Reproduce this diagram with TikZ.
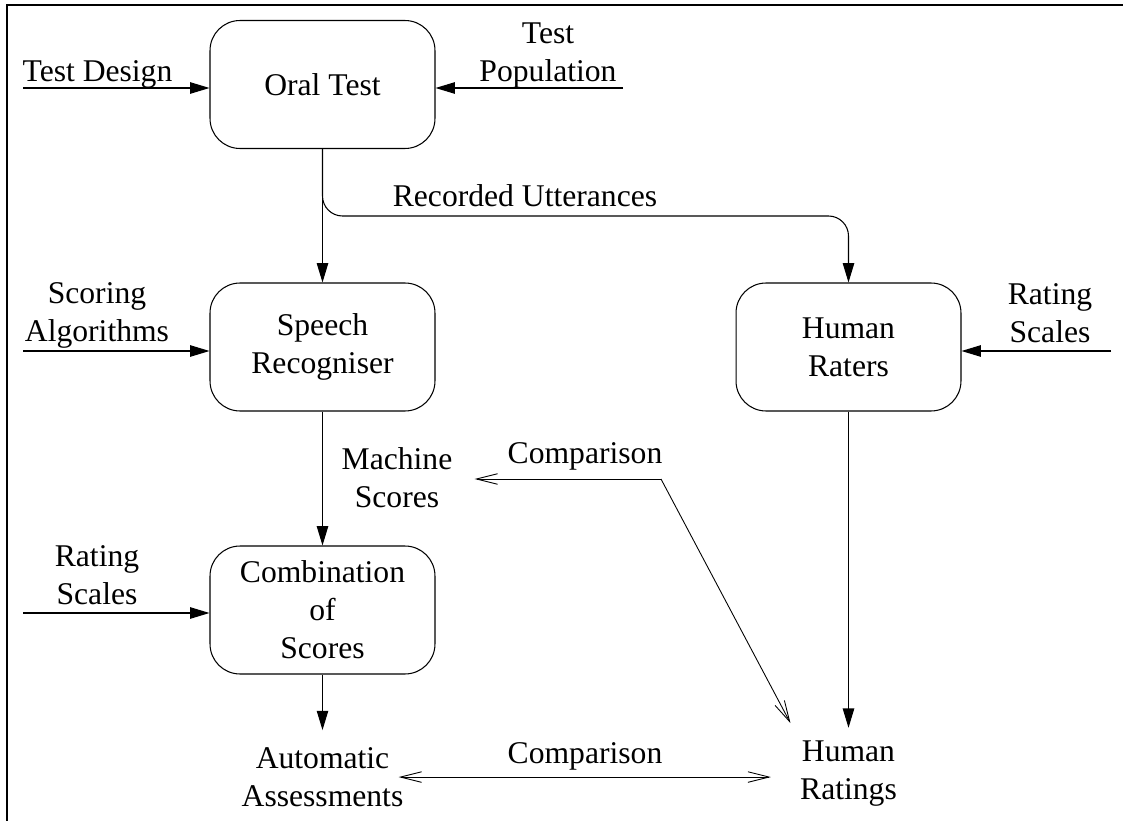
\documentclass[tikz,border=0pt]{standalone}
\usepackage{fontspec}
\setmainfont{Liberation Serif}
\usetikzlibrary{arrows.meta}

\begin{document}
\begin{tikzpicture}[x=0.02cm,y=-0.02cm,
			    font=\fontsize{18}{21.6}\selectfont,
			    box/.style={draw,rounded corners=0.6cm,minimum height=2.56cm,minimum width=4.5cm,inner sep=0mm,align=center,line width=0.6pt},
			    lbl/.style={inner sep=0mm,align=center},
			    edge/.style={-{Triangle[length=11pt,width=6.5pt]},line width=0.6pt},
			    cmp/.style={>={Straight Barb[length=12pt,width=6pt]},->,line width=0.5pt},
			]
	    \useasboundingbox (0,0) rectangle (1123,821);
	    \draw [line width=1.1pt] (7,821) -- (7,5) -- (1123,5);

	    \node[box] (oral) at (322.5,84.5) {Oral Test};
	    \node[box] (speech) at (322.5,347) {Speech\\Recogniser};
	    \node[box] (combine) at (322.5,610) {Combination\\of\\Scores};
	    \node[box] (raters) at (848.5,347) {Human\\Raters};

	    \node[lbl,anchor=base] (design) at (97.5,82) {Test Design};
	    \node[lbl,anchor=south] (population) at (548,88.5) {Test\\Population};
	    \node[lbl,anchor=south] (scoring) at (97,348.5) {Scoring\\Algorithms};
	    \node[lbl,anchor=south] (scales) at (97,605) {Rating\\Scales};
	    \node[lbl,anchor=south] (rscales) at (1050,343) {Rating\\Scales};
	    \node[lbl,anchor=base] (utter) at (525,207) {Recorded Utterances};
	    \node[lbl,anchor=south] (machine) at (397,508) {Machine\\Scores};
	    \node[lbl,anchor=base] (cmpup) at (585,463) {Comparison};
	    \node[lbl,anchor=base] (cmplow) at (585,763) {Comparison};
	    \node[lbl,anchor=south] (auto) at (322.5,807) {Automatic\\Assessments};
	    \node[lbl,anchor=south] (ratings) at (848.5,807) {Human\\Ratings};

	    \coordinate (designin) at (23,88);
	    \coordinate (popin) at (623,88);
	    \coordinate (scorein) at (23,351);
	    \coordinate (scalein) at (23,613);
	    \coordinate (rscalein) at (1111,351);
	    \coordinate (split) at (600,216);
	    \coordinate (bend) at (661,479);

	    %inputs
	    \draw [edge] (designin) -- (designin -| oral.west);
	    \draw [edge] (popin) -- (popin -| oral.east);
	    \draw [edge] (scorein) -- (scorein -| speech.west);
	    \draw [edge] (scalein) -- (scalein -| combine.west);
	    \draw [edge] (rscalein) -- (rscalein -| raters.east);

	    %flow
	    \draw [edge] (oral.south) -- (speech.north);
	    \draw [edge,rounded corners=0.4cm] (oral.south) -- (oral.south |- split) -- (raters.north |- split) -- (raters.north);
	    \draw [edge] (speech.south) -- (combine.north);
	    \draw [edge,shorten >=0.34cm] (combine.south) -- (auto.north);
	    \draw [edge,shorten >=0.26cm] (raters.south) -- (raters.south |- ratings.north);

	    %comparison
	    \draw [cmp,shorten >=0.44cm] (bend) -- (bend -| machine.east);
	    \draw [cmp,shorten >=0.4cm] (bend) -- (ratings.north west);
	    \draw [cmp,<->,shorten <=-0.1cm,shorten >=0.58cm] (auto.east) -- (auto.east -| ratings.west);
	\end{tikzpicture}
\end{document}
